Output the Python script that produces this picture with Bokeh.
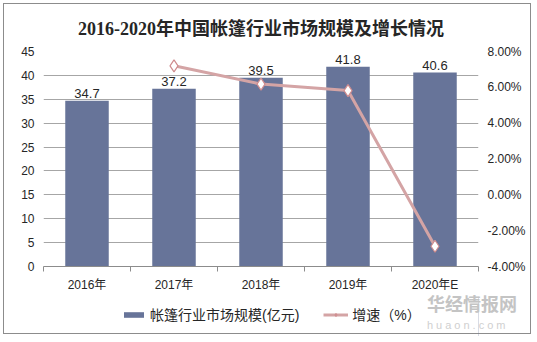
from bokeh.plotting import figure
from bokeh.models import (LinearAxis, Range1d, FixedTicker, Legend, LegendItem, Div,
                          ColumnDataSource, PrintfTickFormatter, InlineStyleSheet, Title)
from bokeh.layouts import column
from bokeh.core.properties import value
from bokeh.embed import file_html
from bokeh.resources import INLINE

# ---- data ----
years = ["2016年", "2017年", "2018年", "2019年", "2020年E"]
market_size = [34.7, 37.2, 39.5, 41.8, 40.6]          # 亿元
growth_years = ["2017年", "2018年", "2019年", "2020年E"]
growth_pct = [7.20, 6.18, 5.82, -2.87]                 # %
left_ticks = [0, 5, 10, 15, 20, 25, 30, 35, 40, 45]
right_ticks = [-4, -2, 0, 2, 4, 6, 8]

FONT = "Liberation Sans, Noto Sans CJK SC"
BAR_COLOR = "#677499"
LINE_COLOR = "#d4a4a5"
MARK_COLOR = "#cf8c8e"

idx = list(range(len(years)))
gidx = [years.index(y) for y in growth_years]

bar_src = ColumnDataSource(dict(x=idx, top=market_size,
                                lab=[f"{v:.1f}" for v in market_size]))
line_src = ColumnDataSource(dict(x=gidx, y=growth_pct))

p = figure(width=537, height=342, output_backend="svg", toolbar_location=None,
           x_range=Range1d(-0.5, len(years) - 0.5), y_range=Range1d(0, 45),
           min_border_left=43, min_border_right=59, min_border_top=51,
           min_border_bottom=76, outline_line_color=None,
           background_fill_color="white", border_fill_color="white")
p.extra_y_ranges = {"pct": Range1d(-4, 8)}

p.title = Title(text="2016-2020年中国帐篷行业市场规模及增长情况", align="center",
                text_font="Liberation Serif, Noto Sans CJK SC", text_font_style="bold",
                text_font_size="18px", text_color="#262626", standoff=25)

p.stylesheets = [InlineStyleSheet(css="""
:host::after { content: ""; position: absolute; left: 3px; top: 3px;
  width: 528px; height: 331px; border: 1px solid #8c8c8c; pointer-events: none; }
""")]

# grid
p.xgrid.visible = False
p.ygrid.ticker = FixedTicker(ticks=left_ticks)
p.ygrid.grid_line_color = "#a6a6a6"
p.ygrid.grid_line_width = 1

# x axis
xa = p.xaxis[0]
xa.ticker = FixedTicker(ticks=idx, minor_ticks=[i - 0.5 for i in range(len(years) + 1)])
xa.major_label_overrides = {i: y for i, y in zip(idx, years)}
xa.axis_line_color = "#8c8c8c"
xa.major_tick_line_color = None
xa.major_tick_out = 0
xa.major_tick_in = 0
xa.minor_tick_line_color = "#8c8c8c"
xa.minor_tick_out = 5
xa.minor_tick_in = 0
xa.major_label_standoff = 6
xa.major_label_text_font = FONT
xa.major_label_text_font_size = "12px"
xa.major_label_text_color = "#262626"

# left y axis
ya = p.yaxis[0]
ya.ticker = FixedTicker(ticks=left_ticks)
ya.axis_line_color = None
ya.major_tick_line_color = None
ya.minor_tick_line_color = None
ya.major_tick_out = 0
ya.major_label_standoff = 9
ya.major_label_text_font = FONT
ya.major_label_text_font_size = "12px"
ya.major_label_text_color = "#262626"

# right y axis
ra = LinearAxis(y_range_name="pct", ticker=FixedTicker(ticks=right_ticks),
                formatter=PrintfTickFormatter(format="%.2f%%"))
ra.axis_line_color = None
ra.major_tick_line_color = None
ra.minor_tick_line_color = None
ra.major_tick_out = 0
ra.major_label_standoff = 9
ra.major_label_text_font = FONT
ra.major_label_text_font_size = "12px"
ra.major_label_text_color = "#262626"
p.add_layout(ra, "right")

# bars
p.vbar(x="x", top="top", width=0.5, source=bar_src, fill_color=BAR_COLOR, line_color=None)
p.text(x="x", y="top", text="lab", source=bar_src, y_offset=-3,
       text_align="center", text_baseline="bottom",
       text_font=value("Liberation Sans"), text_font_size="13px", text_color="#262626")

# growth line
p.line(x="x", y="y", source=line_src, y_range_name="pct",
       line_color=LINE_COLOR, line_width=3)
p.scatter(x="x", y="y", source=line_src, y_range_name="pct", marker="diamond",
          size=12, fill_color="white", line_color=MARK_COLOR, line_width=1.2)

# legend strip (overlaid below the axis; its frame is aligned with the main plot's frame)
lg = figure(width=537, height=40, output_backend="svg", toolbar_location=None,
            x_range=Range1d(0, 1), y_range=Range1d(0, 1),
            x_axis_location=None, y_axis_location=None,
            min_border=0, outline_line_color=None,
            background_fill_alpha=0, border_fill_alpha=0,
            styles={"position": "absolute", "left": "0px", "top": "296px"})
lg.grid.visible = False
offscreen = ColumnDataSource(dict(x=[10], y=[10]))
b_r = lg.vbar(x="x", top="y", width=0.5, source=offscreen, fill_color=BAR_COLOR, line_color=None)
l_r = lg.line(x="x", y="y", source=offscreen, line_color=LINE_COLOR, line_width=3)
m_r = lg.scatter(x="x", y="y", source=offscreen, marker="diamond", size=9,
                 fill_color="white", line_color=MARK_COLOR, line_width=1.2)
legend = Legend(items=[LegendItem(label="帐篷行业市场规模(亿元)", renderers=[b_r]),
                       LegendItem(label="增速（%）", renderers=[l_r, m_r])],
                orientation="horizontal", location=(78, 12),
                border_line_color=None, background_fill_alpha=0,
                glyph_width=25, glyph_height=7, label_standoff=4, spacing=24,
                padding=0, margin=0,
                label_text_font=FONT, label_text_font_size="14px",
                label_text_color="#262626")
lg.add_layout(legend, "center")

# watermark (overlaid)
wm = Div(text='<div style="font-family:\'Noto Sans CJK SC\';font-weight:bold;font-size:18px;'
              'color:#c4c4c4;line-height:16px;height:16px;">华经情报网</div>'
              '<div style="font-family:\'Liberation Sans\';font-size:11px;letter-spacing:3px;'
              'color:#d0d0d0;line-height:11px;height:11px;margin-top:9px;">huaon.com</div>',
         width=100, height=40,
         styles={"position": "absolute", "left": "422px", "top": "290px"})

layout = column(p, lg, wm)
open("out.html", "w").write(file_html(layout, INLINE))
